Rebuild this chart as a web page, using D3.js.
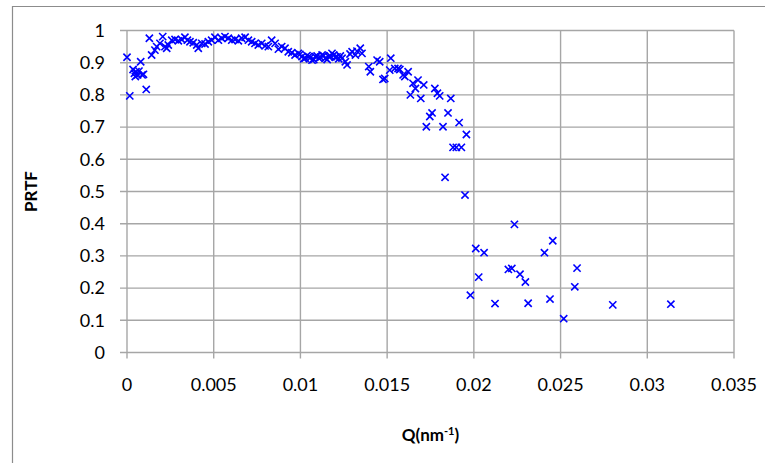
<!DOCTYPE html>
<html>
<head>
<meta charset="utf-8">
<script src="https://cdn.jsdelivr.net/npm/d3@7"></script>
<style>
  html, body { margin: 0; padding: 0; background: #fff; }
  svg { display: block; }
  text { font-family: Lato, "Open Sans", sans-serif; fill: #000; }
</style>
</head>
<body>
<svg id="chart" width="765" height="463"></svg>
<script>
// Axis ticks
const xTicks = [0, 0.005, 0.01, 0.015, 0.02, 0.025, 0.03, 0.035];
const yTicks = [0, 0.1, 0.2, 0.3, 0.4, 0.5, 0.6, 0.7, 0.8, 0.9, 1];

// Q (nm^-1) values of the measured points
const qValues = [
  0.0, 0.00016, 0.00035, 0.00043, 0.00052, 0.00061, 0.00069, 0.00079, 0.00087, 0.00095, 0.00048,
  0.00111, 0.00129, 0.00142, 0.00161, 0.00171, 0.0019, 0.00206, 0.00219, 0.00229, 0.00238,
  0.00258, 0.00277, 0.00296, 0.00315, 0.00334, 0.00348, 0.00363, 0.00382, 0.00402, 0.00411,
  0.00431, 0.0045, 0.00469, 0.00488, 0.00507, 0.00527, 0.00546, 0.00565, 0.00584, 0.00604,
  0.00623, 0.00642, 0.00661, 0.00681, 0.007, 0.00719, 0.00738, 0.00757, 0.00777, 0.00796,
  0.00815, 0.00834, 0.00854, 0.00873, 0.00892, 0.00911, 0.0093, 0.0095, 0.00969, 0.00988,
  0.01009, 0.01028, 0.01048, 0.01067, 0.01086, 0.01106, 0.01125, 0.01144, 0.01163, 0.01182,
  0.01201, 0.01221, 0.0124, 0.01259, 0.01269, 0.01298, 0.01317, 0.01345, 0.01355, 0.01394,
  0.01403, 0.01442, 0.01457, 0.01476, 0.01486, 0.01515, 0.01521, 0.01544, 0.01563, 0.01573,
  0.01592, 0.01602, 0.01621, 0.01634, 0.01649, 0.01663, 0.01678, 0.01694, 0.01711, 0.01726,
  0.01746, 0.01759, 0.01775, 0.0179, 0.01803, 0.01822, 0.01834, 0.01851, 0.01867, 0.0188,
  0.01899, 0.01915, 0.01928, 0.01949, 0.01957, 0.0198, 0.02011, 0.02028, 0.02059, 0.02122,
  0.02199, 0.02219, 0.02234, 0.02266, 0.02297, 0.02313, 0.02407, 0.02439, 0.02455, 0.02518,
  0.02582, 0.02595, 0.02801, 0.03136,
  0.00997, 0.01019, 0.01038, 0.01057, 0.01077, 0.01096, 0.01115, 0.01134, 0.01154, 0.01173,
  0.01192, 0.01211, 0.0123, 0.01286, 0.01326
];

// PRTF values, paired with qValues by index
const prtfValues = [
  0.917, 0.797, 0.879, 0.867, 0.872, 0.862, 0.874, 0.903, 0.862, 0.864, 0.857,
  0.817, 0.976, 0.924, 0.939, 0.95, 0.96, 0.981, 0.95, 0.945, 0.955,
  0.97, 0.972, 0.968, 0.972, 0.979, 0.97, 0.965, 0.962, 0.955, 0.945,
  0.96, 0.958, 0.965, 0.97, 0.979, 0.97, 0.976, 0.981, 0.976, 0.97,
  0.972, 0.968, 0.976, 0.979, 0.97, 0.965, 0.96, 0.955, 0.96, 0.952,
  0.95, 0.97, 0.96, 0.942, 0.95, 0.945, 0.934, 0.931, 0.924, 0.929,
  0.919, 0.914, 0.919, 0.908, 0.919, 0.914, 0.924, 0.914, 0.919, 0.929,
  0.917, 0.912, 0.914, 0.903, 0.893, 0.934, 0.924, 0.945, 0.929, 0.888,
  0.872, 0.908, 0.903, 0.848, 0.851, 0.877, 0.914, 0.882, 0.882, 0.879,
  0.862, 0.857, 0.872, 0.80, 0.836, 0.82, 0.846, 0.789, 0.831, 0.701,
  0.733, 0.744, 0.82, 0.805, 0.797, 0.701, 0.544, 0.744, 0.789, 0.637,
  0.637, 0.714, 0.637, 0.489, 0.677, 0.178, 0.323, 0.234, 0.31, 0.152,
  0.258, 0.261, 0.398, 0.243, 0.219, 0.153, 0.31, 0.166, 0.347, 0.105,
  0.204, 0.262, 0.148, 0.15,
  0.926, 0.912, 0.922, 0.916, 0.91, 0.921, 0.917, 0.922, 0.91, 0.92,
  0.924, 0.918, 0.921, 0.927, 0.936
];

const svg = d3.select("#chart");
const W = 765, H = 463;

const x = d3.scaleLinear().domain([0, 0.035]).range([127, 734]);
const y = d3.scaleLinear().domain([0, 1]).range([352.5, 30.5]);

const gridColor = "#a6a6a6";
const labelSize = "18px";

// Outer frame (left and top edges)
svg.append("path")
  .attr("d", `M12.5,${H} L12.5,6.5 L${W},6.5`)
  .attr("fill", "none")
  .attr("stroke", "#8c8c8c")
  .attr("stroke-width", 1.2);

// Horizontal gridlines
svg.append("g")
  .selectAll("line")
  .data(yTicks)
  .join("line")
  .attr("x1", x(0) - 7)
  .attr("x2", x(0.035))
  .attr("y1", d => y(d))
  .attr("y2", d => y(d))
  .attr("stroke", gridColor)
  .attr("stroke-width", 1.4);

// Vertical gridlines (with ticks below the x axis)
svg.append("g")
  .selectAll("line")
  .data(xTicks)
  .join("line")
  .attr("x1", d => x(d))
  .attr("x2", d => x(d))
  .attr("y1", y(1))
  .attr("y2", y(0) + 6)
  .attr("stroke", gridColor)
  .attr("stroke-width", 1.4);

// Y tick labels
svg.append("g")
  .selectAll("text")
  .data(yTicks)
  .join("text")
  .attr("x", 105)
  .attr("y", d => y(d))
  .attr("dy", "0.35em")
  .attr("text-anchor", "end")
  .style("font-size", labelSize)
  .text(d => d3.format("")(d));

// X tick labels
svg.append("g")
  .selectAll("text")
  .data(xTicks)
  .join("text")
  .attr("x", d => x(d))
  .attr("y", 391)
  .attr("text-anchor", "middle")
  .style("font-size", labelSize)
  .text(d => d3.format("")(d));

// Axis titles
svg.append("text")
  .attr("transform", `translate(37,${y(0.5)}) rotate(-90)`)
  .attr("text-anchor", "middle")
  .style("font-size", "17px")
  .style("font-weight", "bold")
  .text("PRTF");

const xTitle = svg.append("text")
  .attr("x", x(0.0175))
  .attr("y", 441)
  .attr("text-anchor", "middle")
  .style("font-size", "17px")
  .style("font-weight", "bold");
xTitle.append("tspan").text("Q(nm");
xTitle.append("tspan").attr("dy", -6).style("font-size", "11px").text("-1");
xTitle.append("tspan").attr("dy", 6).text(")");

// Data markers: "x" crosses
const points = qValues.map((q, i) => ({ q, p: prtfValues[i] }));
const r = 3.6;
svg.append("g")
  .selectAll("path")
  .data(points)
  .join("path")
  .attr("d", d => {
    const cx = x(d.q), cy = y(d.p);
    return `M${cx - r},${cy - r}L${cx + r},${cy + r}M${cx - r},${cy + r}L${cx + r},${cy - r}`;
  })
  .attr("stroke", "#0000ff")
  .attr("stroke-width", 1.6)
  .attr("fill", "none");
</script>
</body>
</html>
